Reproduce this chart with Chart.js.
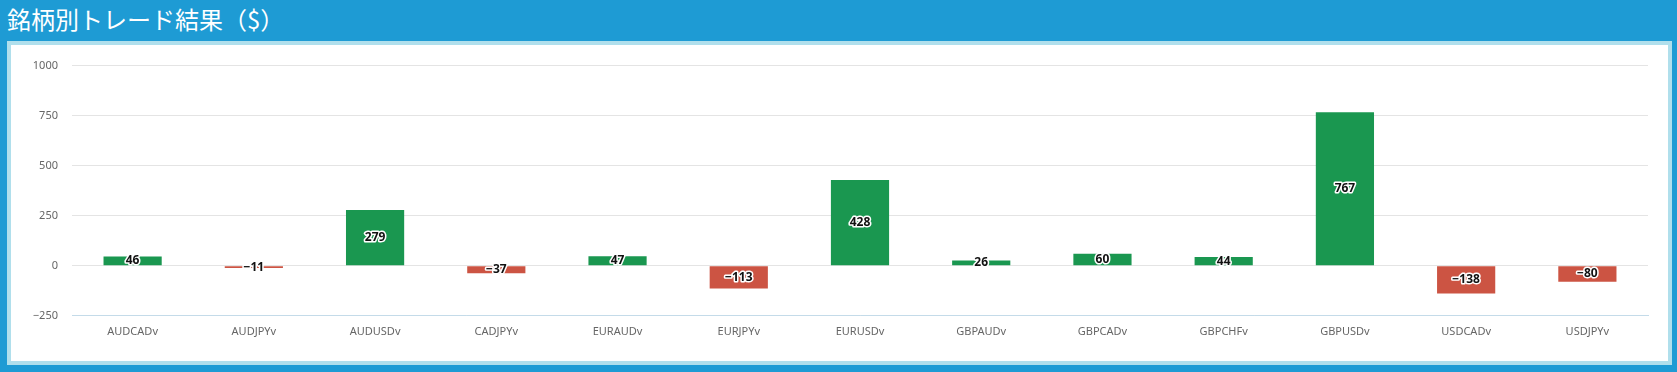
<!DOCTYPE html>
<html>
<head>
<meta charset="utf-8">
<script src="https://cdn.jsdelivr.net/npm/chart.js@4"></script>
<style>
    body { margin: 0; width: 1677px; height: 372px; background: #1e9bd4; overflow: hidden; position: relative; }
    #title { position: absolute; left: 7px; top: 2px; color: #fff; font: 24px "Noto Sans CJK JP", sans-serif; line-height: 34px; }
    #panel { position: absolute; left: 7px; top: 41px; width: 1665px; height: 324px; box-sizing: border-box; border: 4px solid #b0dfec; background: #fff; }
    #wrap { position: relative; width: 1657px; height: 316px; }
</style>
</head>
<body>
<div id="title">銘柄別トレード結果（$）</div>
<div id="panel"><div id="wrap"><canvas id="bar"></canvas></div></div>
<script>
// symbols and profit per symbol ($)
var symbols = ['AUDCADv', 'AUDJPYv', 'AUDUSDv', 'CADJPYv', 'EURAUDv', 'EURJPYv', 'EURUSDv',
    'GBPAUDv', 'GBPCADv', 'GBPCHFv', 'GBPUSDv', 'USDCADv', 'USDJPYv'];
var profits = [46, -11, 279, -37, 47, -113, 428, 26, 60, 44, 767, -138, -80];
var yTicks = [-250, 0, 250, 500, 750, 1000];

var green = '#1a9750';
var red = '#cc5443';

// numbers with a real minus sign, no thousands separator
function fmt(v) {
    return v < 0 ? '\u2212' + Math.abs(v) : String(v);
}

// value label in the middle of each bar (white outline, black text)
var barLabels = {
    id: 'barLabels',
    afterDatasetsDraw: function(chart) {
        var ctx = chart.ctx;
        var meta = chart.getDatasetMeta(0);
        ctx.save();
        ctx.font = 'bold 12px "Noto Sans", sans-serif';
        ctx.textAlign = 'center';
        ctx.textBaseline = 'middle';
        ctx.lineWidth = 3;
        ctx.lineJoin = 'round';
        ctx.strokeStyle = '#fff';
        ctx.fillStyle = '#111';
        meta.data.forEach(function(bar, i) {
            var txt = fmt(profits[i]);
            var y = (bar.y + bar.base) / 2;
            ctx.strokeText(txt, bar.x, y);
            ctx.fillText(txt, bar.x, y);
        });
        ctx.restore();
    }
};

var ctx = document.getElementById('bar').getContext('2d');
var barChart = new Chart(ctx, {
    type: 'bar',
    data: {
        labels: symbols,
        datasets: [{
            data: profits,
            backgroundColor: profits.map(function(v) { return v >= 0 ? green : red; }),
            barPercentage: 0.6,
            categoryPercentage: 0.8
        }]
    },
    options: {
        responsive: true,
        maintainAspectRatio: false,
        animation: false,
        layout: { padding: { left: 0, right: 20, top: 12, bottom: 14 } },
        plugins: { legend: { display: false }, tooltip: { enabled: false } },
        scales: {
            x: {
                grid: { display: false, drawTicks: false },
                border: { display: true, color: '#c4dbe9', width: 1 },
                ticks: { color: '#666', padding: 9, font: { family: '"Noto Sans", sans-serif', size: 11 } }
            },
            y: {
                min: -250,
                max: 1000,
                afterBuildTicks: function(scale) {
                    scale.ticks = yTicks.map(function(v) { return { value: v }; });
                },
                afterFit: function(scale) { scale.width = 61; },
                grid: { color: '#e4e4e4', drawTicks: false },
                border: { display: false },
                ticks: {
                    color: '#666', padding: 14, font: { family: '"Noto Sans", sans-serif', size: 11 },
                    callback: function(v) { return fmt(v); }
                }
            }
        }
    },
    plugins: [barLabels]
});
</script>
</body>
</html>
